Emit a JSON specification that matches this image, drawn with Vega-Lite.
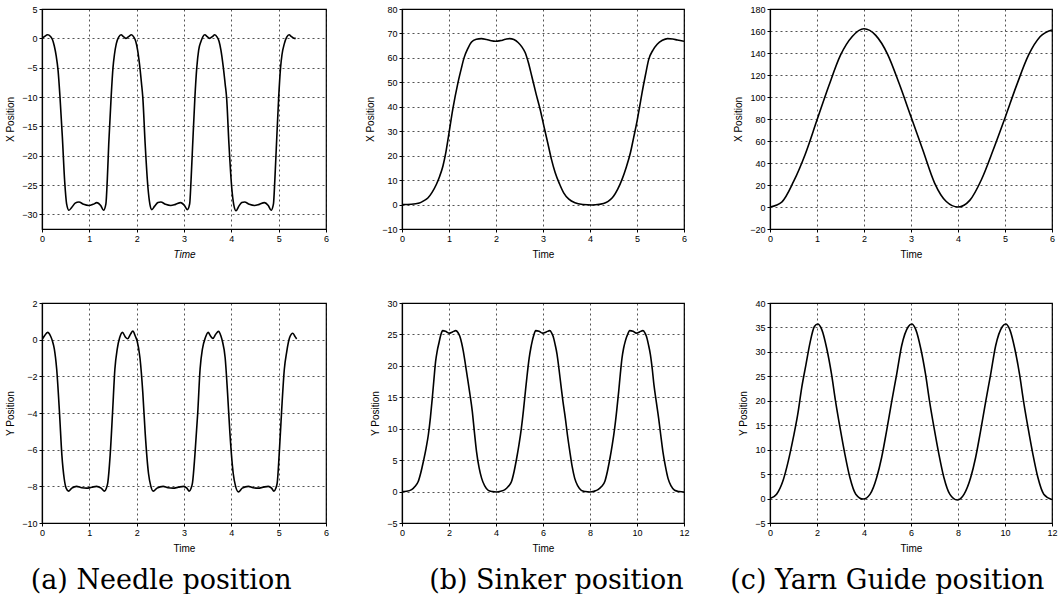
{
"$schema":"https://vega.github.io/schema/vega-lite/v6.json",
"padding":{"left":5,"top":4,"right":0,"bottom":0},
"background":"white",
"datasets":{
"a_x":[{"t":0,"v":0},{"t":0.05,"v":0.3},{"t":0.12,"v":0.6},{"t":0.18,"v":0.3},{"t":0.22,"v":-0.2},{"t":0.26,"v":-1.3},{"t":0.3,"v":-3},{"t":0.34,"v":-5.5},{"t":0.38,"v":-10},{"t":0.43,"v":-16.8},{"t":0.48,"v":-24.5},{"t":0.52,"v":-28.2},{"t":0.57,"v":-29.3},{"t":0.63,"v":-28.8},{"t":0.7,"v":-28.1},{"t":0.78,"v":-27.9},{"t":0.88,"v":-28.3},{"t":0.99,"v":-28.5},{"t":1.08,"v":-28.3},{"t":1.16,"v":-28.0},{"t":1.24,"v":-28.5},{"t":1.3,"v":-29.3},{"t":1.35,"v":-28.2},{"t":1.38,"v":-24},{"t":1.41,"v":-18},{"t":1.46,"v":-10.1},{"t":1.5,"v":-5},{"t":1.53,"v":-2.8},{"t":1.57,"v":-0.9},{"t":1.62,"v":0.2},{"t":1.67,"v":0.6},{"t":1.72,"v":0.3},{"t":1.77,"v":0},{"t":1.83,"v":0.3},{"t":1.89,"v":0.6},{"t":1.94,"v":0.2},{"t":1.98,"v":-0.5},{"t":2.02,"v":-2},{"t":2.06,"v":-4.4},{"t":2.1,"v":-7.5},{"t":2.13,"v":-10.1},{"t":2.18,"v":-18.1},{"t":2.24,"v":-25.6},{"t":2.28,"v":-28.3},{"t":2.32,"v":-29.2},{"t":2.38,"v":-28.6},{"t":2.45,"v":-28.0},{"t":2.51,"v":-27.9},{"t":2.61,"v":-28.3},{"t":2.72,"v":-28.5},{"t":2.82,"v":-28.3},{"t":2.93,"v":-28.0},{"t":3.01,"v":-28.5},{"t":3.07,"v":-29.2},{"t":3.12,"v":-28.2},{"t":3.15,"v":-24},{"t":3.18,"v":-18.7},{"t":3.23,"v":-10.1},{"t":3.27,"v":-5},{"t":3.31,"v":-2},{"t":3.36,"v":-0.5},{"t":3.4,"v":0.3},{"t":3.44,"v":0.6},{"t":3.49,"v":0.3},{"t":3.54,"v":0},{"t":3.6,"v":0.3},{"t":3.65,"v":0.6},{"t":3.7,"v":0.2},{"t":3.74,"v":-0.5},{"t":3.78,"v":-2},{"t":3.83,"v":-4.9},{"t":3.87,"v":-7.8},{"t":3.9,"v":-10.1},{"t":3.95,"v":-18.1},{"t":4.01,"v":-25.6},{"t":4.05,"v":-28.3},{"t":4.1,"v":-29.4},{"t":4.16,"v":-28.6},{"t":4.22,"v":-28.0},{"t":4.28,"v":-27.9},{"t":4.38,"v":-28.3},{"t":4.49,"v":-28.5},{"t":4.59,"v":-28.3},{"t":4.7,"v":-28.0},{"t":4.78,"v":-28.5},{"t":4.84,"v":-29.3},{"t":4.89,"v":-28.2},{"t":4.92,"v":-24},{"t":4.95,"v":-18.7},{"t":5.0,"v":-10.1},{"t":5.04,"v":-5},{"t":5.07,"v":-2.8},{"t":5.12,"v":-0.9},{"t":5.17,"v":0.2},{"t":5.22,"v":0.6},{"t":5.27,"v":0.3},{"t":5.33,"v":0},{"t":5.36,"v":0}],
"a_y":[{"t":0,"v":0},{"t":0.05,"v":0.2},{"t":0.12,"v":0.4},{"t":0.18,"v":0.2},{"t":0.22,"v":-0.07},{"t":0.26,"v":-0.5},{"t":0.31,"v":-1.6},{"t":0.37,"v":-4.0},{"t":0.42,"v":-6.3},{"t":0.47,"v":-7.6},{"t":0.51,"v":-8.1},{"t":0.56,"v":-8.26},{"t":0.63,"v":-8.1},{"t":0.73,"v":-8.0},{"t":0.84,"v":-8.08},{"t":0.94,"v":-8.1},{"t":1.05,"v":-8.05},{"t":1.15,"v":-8.0},{"t":1.25,"v":-8.1},{"t":1.32,"v":-8.26},{"t":1.36,"v":-8.1},{"t":1.39,"v":-7.8},{"t":1.44,"v":-6.3},{"t":1.49,"v":-4.0},{"t":1.54,"v":-1.6},{"t":1.59,"v":-0.5},{"t":1.64,"v":0.1},{"t":1.7,"v":0.4},{"t":1.76,"v":0.15},{"t":1.81,"v":0.05},{"t":1.87,"v":0.3},{"t":1.92,"v":0.47},{"t":1.97,"v":0.2},{"t":2.01,"v":-0.07},{"t":2.07,"v":-1.0},{"t":2.13,"v":-2.9},{"t":2.18,"v":-5.1},{"t":2.25,"v":-7.3},{"t":2.3,"v":-8.0},{"t":2.35,"v":-8.26},{"t":2.43,"v":-8.1},{"t":2.56,"v":-8.0},{"t":2.66,"v":-8.08},{"t":2.77,"v":-8.1},{"t":2.88,"v":-8.05},{"t":2.99,"v":-8.0},{"t":3.06,"v":-8.1},{"t":3.11,"v":-8.26},{"t":3.15,"v":-8.1},{"t":3.18,"v":-7.8},{"t":3.23,"v":-6.3},{"t":3.29,"v":-4.0},{"t":3.34,"v":-1.6},{"t":3.39,"v":-0.5},{"t":3.45,"v":0.1},{"t":3.51,"v":0.4},{"t":3.56,"v":0.2},{"t":3.61,"v":0.07},{"t":3.67,"v":0.3},{"t":3.73,"v":0.45},{"t":3.78,"v":0.2},{"t":3.81,"v":-0.07},{"t":3.87,"v":-1.0},{"t":3.92,"v":-2.9},{"t":3.97,"v":-5.1},{"t":4.04,"v":-7.3},{"t":4.09,"v":-8.0},{"t":4.15,"v":-8.3},{"t":4.23,"v":-8.1},{"t":4.36,"v":-8.0},{"t":4.46,"v":-8.08},{"t":4.57,"v":-8.1},{"t":4.67,"v":-8.05},{"t":4.78,"v":-8.0},{"t":4.85,"v":-8.1},{"t":4.9,"v":-8.26},{"t":4.94,"v":-8.1},{"t":4.97,"v":-7.8},{"t":5.01,"v":-6.3},{"t":5.06,"v":-4.0},{"t":5.12,"v":-1.6},{"t":5.17,"v":-0.66},{"t":5.23,"v":0.1},{"t":5.3,"v":0.35},{"t":5.35,"v":0.15},{"t":5.38,"v":0.04}],
"b_x":[{"t":0,"v":0},{"t":0.2,"v":0.1},{"t":0.37,"v":0.6},{"t":0.46,"v":1.5},{"t":0.55,"v":2.7},{"t":0.64,"v":5},{"t":0.73,"v":8.2},{"t":0.8,"v":11.5},{"t":0.87,"v":15.7},{"t":0.93,"v":21},{"t":0.99,"v":28},{"t":1.08,"v":38.9},{"t":1.19,"v":49.8},{"t":1.26,"v":55.5},{"t":1.32,"v":60},{"t":1.4,"v":63.8},{"t":1.48,"v":66.5},{"t":1.58,"v":67.6},{"t":1.69,"v":67.9},{"t":1.8,"v":67.5},{"t":1.9,"v":67},{"t":1.99,"v":66.8},{"t":2.1,"v":67.1},{"t":2.2,"v":67.6},{"t":2.29,"v":67.9},{"t":2.38,"v":67.5},{"t":2.47,"v":66.3},{"t":2.55,"v":64.5},{"t":2.62,"v":62.2},{"t":2.69,"v":58},{"t":2.76,"v":52.6},{"t":2.85,"v":45.5},{"t":2.94,"v":38.9},{"t":3.02,"v":32},{"t":3.1,"v":25.3},{"t":3.18,"v":18.5},{"t":3.26,"v":13},{"t":3.35,"v":8.5},{"t":3.44,"v":4.8},{"t":3.55,"v":2.2},{"t":3.68,"v":0.7},{"t":3.85,"v":0},{"t":4.04,"v":-0.2},{"t":4.2,"v":0.1},{"t":4.33,"v":0.7},{"t":4.42,"v":1.8},{"t":4.5,"v":3.4},{"t":4.59,"v":6.3},{"t":4.68,"v":10.2},{"t":4.77,"v":15.2},{"t":4.86,"v":21.2},{"t":4.93,"v":27.5},{"t":5.0,"v":34},{"t":5.06,"v":40.5},{"t":5.11,"v":46},{"t":5.18,"v":53},{"t":5.25,"v":59.4},{"t":5.34,"v":63.2},{"t":5.43,"v":65.6},{"t":5.54,"v":67.2},{"t":5.65,"v":67.9},{"t":5.76,"v":67.7},{"t":5.86,"v":67.3},{"t":6.0,"v":66.8}],
"c_x":[{"t":0,"v":0},{"t":0.25,"v":4.5},{"t":0.5,"v":23},{"t":0.75,"v":48},{"t":1,"v":79},{"t":1.25,"v":110},{"t":1.5,"v":138},{"t":1.75,"v":155},{"t":2,"v":162},{"t":2.25,"v":156},{"t":2.5,"v":139},{"t":2.75,"v":112},{"t":3,"v":82},{"t":3.25,"v":52},{"t":3.5,"v":22},{"t":3.75,"v":5},{"t":4,"v":0},{"t":4.25,"v":6},{"t":4.5,"v":25},{"t":4.75,"v":52},{"t":5,"v":81},{"t":5.25,"v":111},{"t":5.5,"v":138},{"t":5.75,"v":155},{"t":6,"v":161}],
"b_y":[{"t":0,"v":0},{"t":0.2,"v":0.05},{"t":0.41,"v":0.3},{"t":0.55,"v":0.8},{"t":0.69,"v":1.6},{"t":0.8,"v":3},{"t":0.91,"v":4.8},{"t":1.02,"v":6.8},{"t":1.12,"v":9.0},{"t":1.21,"v":11.8},{"t":1.29,"v":14.9},{"t":1.36,"v":17.9},{"t":1.43,"v":20.7},{"t":1.5,"v":22.4},{"t":1.57,"v":23.6},{"t":1.65,"v":24.9},{"t":1.73,"v":25.6},{"t":1.85,"v":25.5},{"t":2.0,"v":25.2},{"t":2.15,"v":25.4},{"t":2.29,"v":25.6},{"t":2.38,"v":25.3},{"t":2.46,"v":24.7},{"t":2.54,"v":23.6},{"t":2.61,"v":22.3},{"t":2.7,"v":20.2},{"t":2.79,"v":18.0},{"t":2.89,"v":15.5},{"t":2.99,"v":12.8},{"t":3.08,"v":9.5},{"t":3.17,"v":6.4},{"t":3.28,"v":3.8},{"t":3.39,"v":2.1},{"t":3.52,"v":0.9},{"t":3.67,"v":0.2},{"t":3.85,"v":0},{"t":4.02,"v":-0.07},{"t":4.2,"v":0.05},{"t":4.38,"v":0.3},{"t":4.52,"v":0.8},{"t":4.66,"v":1.6},{"t":4.77,"v":3.2},{"t":4.87,"v":5.1},{"t":4.98,"v":7.5},{"t":5.08,"v":10.1},{"t":5.17,"v":13},{"t":5.25,"v":15.9},{"t":5.33,"v":18.7},{"t":5.41,"v":21.2},{"t":5.48,"v":22.8},{"t":5.54,"v":23.9},{"t":5.61,"v":24.9},{"t":5.69,"v":25.6},{"t":5.83,"v":25.5},{"t":5.98,"v":25.2},{"t":6.14,"v":25.4},{"t":6.29,"v":25.6},{"t":6.36,"v":25.3},{"t":6.43,"v":24.7},{"t":6.51,"v":23.5},{"t":6.6,"v":21.8},{"t":6.68,"v":19.5},{"t":6.76,"v":17},{"t":6.85,"v":14.3},{"t":6.95,"v":11.7},{"t":7.04,"v":9},{"t":7.14,"v":6.4},{"t":7.24,"v":4},{"t":7.35,"v":2.1},{"t":7.48,"v":0.9},{"t":7.63,"v":0.2},{"t":7.8,"v":0},{"t":7.99,"v":-0.07},{"t":8.17,"v":0.05},{"t":8.34,"v":0.3},{"t":8.49,"v":0.8},{"t":8.63,"v":1.6},{"t":8.74,"v":3.2},{"t":8.84,"v":5.1},{"t":8.95,"v":7.5},{"t":9.05,"v":10.1},{"t":9.14,"v":13},{"t":9.22,"v":15.9},{"t":9.29,"v":18.7},{"t":9.36,"v":21.2},{"t":9.43,"v":22.8},{"t":9.5,"v":23.9},{"t":9.59,"v":24.9},{"t":9.69,"v":25.6},{"t":9.83,"v":25.5},{"t":9.97,"v":25.2},{"t":10.11,"v":25.4},{"t":10.25,"v":25.6},{"t":10.33,"v":25.3},{"t":10.4,"v":24.7},{"t":10.48,"v":23.5},{"t":10.57,"v":21.8},{"t":10.65,"v":19.5},{"t":10.72,"v":17},{"t":10.82,"v":14.3},{"t":10.92,"v":11.7},{"t":11.01,"v":9},{"t":11.1,"v":6.4},{"t":11.21,"v":4},{"t":11.32,"v":2.1},{"t":11.45,"v":0.9},{"t":11.6,"v":0.2},{"t":11.8,"v":0},{"t":12,"v":-0.07}],
"c_y":[{"t":0,"v":0},{"t":0.28,"v":0.9},{"t":0.57,"v":3.9},{"t":0.78,"v":7.7},{"t":0.99,"v":12.4},{"t":1.18,"v":17.2},{"t":1.35,"v":22.7},{"t":1.53,"v":27.4},{"t":1.7,"v":31.8},{"t":1.89,"v":35.2},{"t":2.03,"v":35.7},{"t":2.2,"v":34.6},{"t":2.41,"v":30.8},{"t":2.62,"v":25.4},{"t":2.79,"v":19.9},{"t":2.98,"v":14.5},{"t":3.19,"v":9},{"t":3.4,"v":4.3},{"t":3.65,"v":0.9},{"t":3.97,"v":-0.1},{"t":4.26,"v":0.9},{"t":4.54,"v":4.3},{"t":4.75,"v":8.4},{"t":4.96,"v":13.8},{"t":5.18,"v":19.9},{"t":5.39,"v":25.4},{"t":5.6,"v":31.2},{"t":5.89,"v":35.2},{"t":6.03,"v":35.7},{"t":6.2,"v":34.6},{"t":6.41,"v":30.8},{"t":6.62,"v":25.4},{"t":6.79,"v":19.9},{"t":6.98,"v":14.5},{"t":7.19,"v":9},{"t":7.4,"v":4.3},{"t":7.65,"v":0.9},{"t":7.97,"v":-0.3},{"t":8.26,"v":0.9},{"t":8.54,"v":4.3},{"t":8.75,"v":8.4},{"t":8.96,"v":13.8},{"t":9.18,"v":19.9},{"t":9.39,"v":25.4},{"t":9.6,"v":31.2},{"t":9.89,"v":35.2},{"t":10.03,"v":35.7},{"t":10.2,"v":34.6},{"t":10.41,"v":30.8},{"t":10.62,"v":25.4},{"t":10.79,"v":19.9},{"t":10.98,"v":14.5},{"t":11.19,"v":9},{"t":11.4,"v":4.3},{"t":11.65,"v":0.9},{"t":12,"v":-0.2}]
},
"hconcat":[
 {"hconcat":[
  {"vconcat":[
   {"width":284,"height":220,"data":{"name":"a_x"},
    "mark":{"type":"line","color":"black","strokeWidth":1.6,"interpolate":"monotone","clip":true},
    "encoding":{
     "x":{"field":"t","type":"quantitative","scale":{"domain":[0,6],"nice":false},"axis":{"title":"Time","titleFontStyle":"italic","values":[0,1,2,3,4,5,6]}},
     "y":{"field":"v","type":"quantitative","scale":{"domain":[-32.5,5],"nice":false,"zero":false},"axis":{"title":"X Position","values":[-30,-25,-20,-15,-10,-5,0,5]}}}},
   {"width":284,"height":220,"data":{"name":"a_y"},
    "mark":{"type":"line","color":"black","strokeWidth":1.6,"interpolate":"monotone","clip":true},
    "encoding":{
     "x":{"field":"t","type":"quantitative","scale":{"domain":[0,6],"nice":false},"axis":{"title":"Time","values":[0,1,2,3,4,5,6]}},
     "y":{"field":"v","type":"quantitative","scale":{"domain":[-10,2],"nice":false,"zero":false},"axis":{"title":"Y Position","values":[-10,-8,-6,-4,-2,0,2]}}}}
  ],"spacing":38,
  "title":{"text":"(a) Needle position","orient":"bottom","anchor":"middle","offset":14,"dx":-6}},
  {"vconcat":[
   {"width":282,"height":220,"data":{"name":"b_x"},
    "mark":{"type":"line","color":"black","strokeWidth":1.6,"interpolate":"monotone","clip":true},
    "encoding":{
     "x":{"field":"t","type":"quantitative","scale":{"domain":[0,6],"nice":false},"axis":{"title":"Time","values":[0,1,2,3,4,5,6]}},
     "y":{"field":"v","type":"quantitative","scale":{"domain":[-10,80],"nice":false,"zero":false},"axis":{"title":"X Position","values":[-10,0,10,20,30,40,50,60,70,80]}}}},
   {"width":282,"height":220,"data":{"name":"b_y"},
    "mark":{"type":"line","color":"black","strokeWidth":1.6,"interpolate":"monotone","clip":true},
    "encoding":{
     "x":{"field":"t","type":"quantitative","scale":{"domain":[0,12],"nice":false},"axis":{"title":"Time","values":[0,2,4,6,8,10,12]}},
     "y":{"field":"v","type":"quantitative","scale":{"domain":[-5,30],"nice":false,"zero":false},"axis":{"title":"Y Position","values":[-5,0,5,10,15,20,25,30]}}}}
  ],"spacing":38,
  "title":{"text":"(b) Sinker position","orient":"bottom","anchor":"middle","offset":14,"dx":29}}
 ],"spacing":35},
 {"vconcat":[
   {"width":282,"height":220,"data":{"name":"c_x"},
    "mark":{"type":"line","color":"black","strokeWidth":1.6,"interpolate":"monotone","clip":true},
    "encoding":{
     "x":{"field":"t","type":"quantitative","scale":{"domain":[0,6],"nice":false},"axis":{"title":"Time","values":[0,1,2,3,4,5,6]}},
     "y":{"field":"v","type":"quantitative","scale":{"domain":[-20,180],"nice":false,"zero":false},"axis":{"title":"X Position","values":[-20,0,20,40,60,80,100,120,140,160,180]}}}},
   {"width":282,"height":220,"data":{"name":"c_y"},
    "mark":{"type":"line","color":"black","strokeWidth":1.6,"interpolate":"monotone","clip":true},
    "encoding":{
     "x":{"field":"t","type":"quantitative","scale":{"domain":[0,12],"nice":false},"axis":{"title":"Time","values":[0,2,4,6,8,10,12]}},
     "y":{"field":"v","type":"quantitative","scale":{"domain":[-5,40],"nice":false,"zero":false},"axis":{"title":"Y Position","values":[-5,0,5,10,15,20,25,30,35,40]}}}}
  ],"spacing":38,
  "title":{"text":"(c) Yarn Guide position","orient":"bottom","anchor":"middle","offset":14,"dx":-8}}
],
"spacing":40,
"config":{
 "view":{"stroke":"black","strokeWidth":1.2},
 "axis":{"domainColor":"black","domainWidth":1.2,"tickColor":"black","tickSize":3,"labelFont":"Liberation Sans","labelFontSize":9,"labelColor":"black","labelPadding":2,"labelFlush":false,"labelOverlap":false,"titleFont":"Liberation Sans","titleFontSize":10,"titleFontWeight":"normal","titleColor":"black","titlePadding":6,"gridColor":"black","gridDash":[2,3],"gridWidth":0.8,"gridOpacity":0.85,"format":"d"},
 "title":{"font":"DejaVu Serif","fontSize":27,"fontWeight":"normal","color":"black"}
}
}
